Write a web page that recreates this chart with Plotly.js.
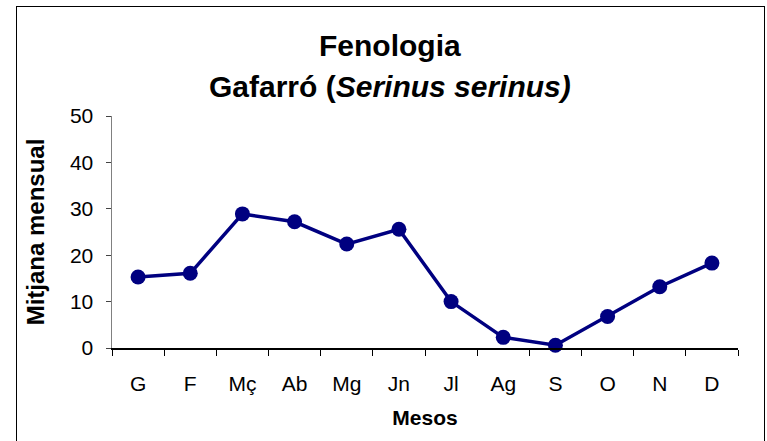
<!DOCTYPE html>
<html><head><meta charset="utf-8">
<script src="https://cdn.plot.ly/plotly-3.0.1.min.js"></script>
<style>
html,body{margin:0;padding:0;background:#fff;}
#wrap{position:relative;width:767px;height:441px;overflow:hidden;}
#chart{width:767px;height:441px;}
#frame{position:absolute;left:16px;top:6px;width:747px;height:450px;border:1px solid #000;pointer-events:none;}
</style></head>
<body><div id="wrap"><div id="chart"></div><div id="frame"></div></div>
<script>
const months = ["G","F","Mç","Ab","Mg","Jn","Jl","Ag","S","O","N","D"];
const monthlyMean = [15.3,16.1,28.9,27.2,22.4,25.6,10.0,2.3,0.6,6.8,13.2,18.3];
const yTicks = [0,10,20,30,40,50];
const titleLine1 = "Fenologia";
const titleLine2 = "Gafarró (<i>Serinus serinus)</i>";
const fontFam = "Liberation Sans, Arial, sans-serif";

const trace = {
  x: months, y: monthlyMean, type: "scatter", mode: "lines+markers",
  line: {color: "#000080", width: 3.5},
  marker: {color: "#000080", size: 15},
  cliponaxis: false, hoverinfo: "skip"
};
const layout = {
  width: 767, height: 441,
  margin: {l:112, r:29, t:116, b:93},
  paper_bgcolor: "#fff", plot_bgcolor: "#fff",
  showlegend: false,
  font: {family: fontFam, color: "#000", size: 21},
  xaxis: {
    type: "category", range: [-0.5, 11.5], tickson: "boundaries",
    ticks: "outside", ticklen: 6, tickcolor: "#000", tickwidth: 1,
    showline: true, linecolor: "#000", linewidth: 1.5,
    showgrid: false, zeroline: false,
    tickfont: {size: 21}, ticklabelstandoff: 16,
    title: {text: "<b>Mesos</b>", font: {size: 21}, standoff: 16}
  },
  yaxis: {
    range: [0, 50], tickvals: yTicks, ticktext: yTicks.map(String),
    ticks: "outside", ticklen: 5, tickcolor: "#444", tickwidth: 1,
    showline: true, linecolor: "#808080", linewidth: 1.5,
    showgrid: false, zeroline: false,
    tickfont: {size: 21}, ticklabelstandoff: 8,
    title: {text: "<b>Mitjana mensual</b>", font: {size: 24}, standoff: 18}
  },
  annotations: [
    {text: "<b>"+titleLine1+"</b>", xref:"paper", yref:"paper", x:0.444, y:1.304,
     xanchor:"center", yanchor:"middle", showarrow:false, font:{size:30}},
    {text: "<b>"+titleLine2+"</b>", xref:"paper", yref:"paper", x:0.444, y:1.127,
     xanchor:"center", yanchor:"middle", showarrow:false, font:{size:30}}
  ]
};
Plotly.newPlot("chart", [trace], layout, {staticPlot: true});
</script></body></html>
